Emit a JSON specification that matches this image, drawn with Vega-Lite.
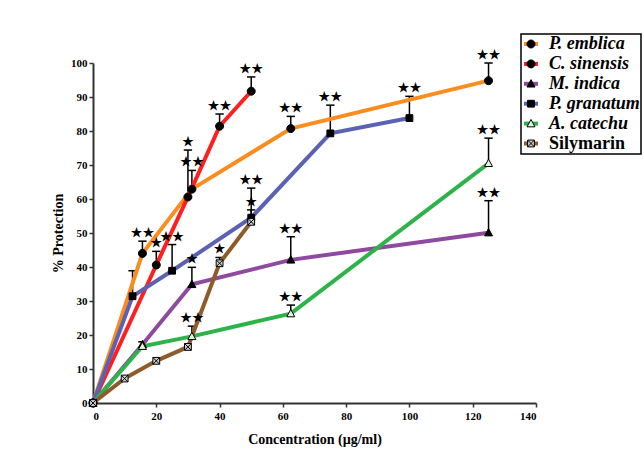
{
  "$schema": "https://vega.github.io/schema/vega-lite/v6.json",
  "autosize": "none",
  "width": 443,
  "height": 340,
  "padding": {"left": 93, "top": 63, "right": 108, "bottom": 56},
  "background": "white",
  "config": {
    "view": {"stroke": null},
    "axis": {
      "grid": false,
      "domainColor": "#333333",
      "domainWidth": 2,
      "tickColor": "#333333",
      "tickWidth": 1.5,
      "tickSize": 4,
      "labelFont": "Liberation Serif",
      "labelFontWeight": "bold",
      "labelFontSize": 11,
      "labelColor": "black",
      "titleFont": "Liberation Serif",
      "titleFontWeight": "bold",
      "titleFontSize": 14,
      "titleColor": "black"
    },
    "legend": {"strokeWidth": 1.5}
  },
  "data": {
    "values": [
      {"series": "P. emblica", "conc": 0, "prot": 0},
      {"series": "P. emblica", "conc": 15.625, "prot": 44, "err": 47.6, "stars": "★★"},
      {"series": "P. emblica", "conc": 31.25, "prot": 62.9, "err": 68.4, "stars": "★★"},
      {"series": "P. emblica", "conc": 62.5, "prot": 80.7, "err": 84.3, "stars": "★★"},
      {"series": "P. emblica", "conc": 125, "prot": 94.8, "err": 100, "stars": "★★"},
      {"series": "C. sinensis", "conc": 0, "prot": 0},
      {"series": "C. sinensis", "conc": 20, "prot": 40.6, "err": 44.6, "stars": "★"},
      {"series": "C. sinensis", "conc": 30, "prot": 60.6, "err": 74.4, "stars": "★"},
      {"series": "C. sinensis", "conc": 40, "prot": 81.4, "err": 85, "stars": "★★"},
      {"series": "C. sinensis", "conc": 50, "prot": 91.7, "err": 95.9, "stars": "★★"},
      {"series": "M. indica", "conc": 0, "prot": 0},
      {"series": "M. indica", "conc": 15.625, "prot": 17.2},
      {"series": "M. indica", "conc": 31.25, "prot": 34.9, "err": 39.9, "stars": "★"},
      {"series": "M. indica", "conc": 62.5, "prot": 42.1, "err": 48.9, "stars": "★★"},
      {"series": "M. indica", "conc": 125, "prot": 50.1, "err": 59.5, "stars": "★★"},
      {"series": "P. granatum", "conc": 0, "prot": 0},
      {"series": "P. granatum", "conc": 12.5, "prot": 31.4, "err": 38.9},
      {"series": "P. granatum", "conc": 25, "prot": 38.9, "err": 46.6, "stars": "★★"},
      {"series": "P. granatum", "conc": 50, "prot": 54.5, "err": 63.2, "stars": "★★"},
      {"series": "P. granatum", "conc": 75, "prot": 79.3, "err": 87.6, "stars": "★★"},
      {"series": "P. granatum", "conc": 100, "prot": 83.8, "err": 90.2, "stars": "★★"},
      {"series": "A. catechu", "conc": 0, "prot": 0},
      {"series": "A. catechu", "conc": 15.625, "prot": 16.7, "err": 18},
      {"series": "A. catechu", "conc": 31.25, "prot": 19.6, "err": 22.6, "stars": "★★"},
      {"series": "A. catechu", "conc": 62.5, "prot": 26.3, "err": 28.8, "stars": "★★"},
      {"series": "A. catechu", "conc": 125, "prot": 70.5, "err": 77.9, "stars": "★★"},
      {"series": "Silymarin", "conc": 0, "prot": 0},
      {"series": "Silymarin", "conc": 10, "prot": 7.2},
      {"series": "Silymarin", "conc": 20, "prot": 12.4},
      {"series": "Silymarin", "conc": 30, "prot": 16.5},
      {"series": "Silymarin", "conc": 40, "prot": 41.1, "err": 42.8, "stars": "★"},
      {"series": "Silymarin", "conc": 50, "prot": 53.3, "err": 56.8, "stars": "★"}
    ]
  },
  "encoding": {
    "x": {
      "field": "conc",
      "type": "quantitative",
      "scale": {"domain": [0, 140], "nice": false},
      "axis": {"values": [0, 20, 40, 60, 80, 100, 120, 140], "title": "Concentration (µg/ml)", "titlePadding": 11, "labelPadding": 3}
    },
    "y": {
      "field": "prot",
      "type": "quantitative",
      "scale": {"domain": [0, 100], "nice": false},
      "axis": {"values": [0, 10, 20, 30, 40, 50, 60, 70, 80, 90, 100], "title": "% Protection", "titlePadding": 5, "labelPadding": 2}
    }
  },
  "layer": [
    {
      "transform": [{"filter": "isValid(datum.err)"}],
      "mark": {"type": "rule", "color": "black", "strokeWidth": 1.5},
      "encoding": {"y2": {"field": "err"}}
    },
    {
      "transform": [{"filter": "isValid(datum.err)"}],
      "mark": {"type": "point", "shape": "stroke", "size": 70, "color": "black", "strokeWidth": 1.5, "opacity": 1},
      "encoding": {"y": {"field": "err", "type": "quantitative"}}
    },
    {
      "mark": {"type": "line", "strokeWidth": 4},
      "encoding": {
        "color": {
          "field": "series",
          "type": "nominal",
          "scale": {
            "domain": ["P. emblica", "C. sinensis", "M. indica", "P. granatum", "A. catechu", "Silymarin"],
            "range": ["#FB8C1E", "#FF1F1F", "#8D4A9E", "#5B62B3", "#2EB34B", "#8E5C2A"]
          },
          "legend": {
            "orient": "none",
            "legendX": 428,
            "legendY": -29,
            "title": null,
            "symbolType": "stroke",
            "symbolSize": 196,
            "symbolStrokeWidth": 4,
            "padding": 1,
            "rowPadding": 1.9,
            "labelOffset": 9,
            "labelFont": "Liberation Serif",
            "labelFontSize": 18,
            "labelFontWeight": "bold",
            "labelFontStyle": {"expr": "datum.label == 'Silymarin' ? 'normal' : 'italic'"},
            "labelColor": "black",
            "labelLimit": 300,
            "strokeColor": "black"
          }
        }
      }
    },
    {
      "mark": {"type": "point", "filled": true, "size": 289, "stroke": "black", "strokeWidth": 1, "opacity": 1},
      "encoding": {
        "shape": {
          "field": "series",
          "type": "nominal",
          "sort": ["P. emblica", "C. sinensis", "M. indica", "P. granatum", "A. catechu", "Silymarin"],
          "scale": {
            "range": [
              "M0.47,0A0.47,0.47,0,1,1,-0.47,0A0.47,0.47,0,1,1,0.47,0Z",
              "M0.47,0A0.47,0.47,0,1,1,-0.47,0A0.47,0.47,0,1,1,0.47,0Z",
              "M0,-0.49L0.47,0.38L-0.47,0.38Z",
              "M-0.4,-0.4H0.4V0.4H-0.4Z",
              "M0,-0.49L0.47,0.38L-0.47,0.38Z",
              "M-0.4,-0.4H0.4V0.4H-0.4Z M-0.4,-0.4L0.4,0.4 M0.4,-0.4L-0.4,0.4"
            ]
          },
          "legend": {
            "orient": "none",
            "legendX": 428,
            "legendY": -29,
            "title": null,
            "symbolSize": 289,
            "symbolStrokeWidth": 1,
            "symbolStrokeColor": "black",
            "symbolFillColor": {"expr": "datum.value == 'A. catechu' ? '#e4f4de' : datum.value == 'Silymarin' ? '#cfcfcf' : 'black'"},
            "padding": 1,
            "rowPadding": 1.9,
            "labelOffset": 9,
            "labelFont": "Liberation Serif",
            "labelFontSize": 18,
            "labelFontWeight": "bold",
            "labelOpacity": 0,
            "labelLimit": 300
          }
        },
        "fill": {
          "field": "series",
          "type": "nominal",
          "scale": {
            "domain": ["P. emblica", "C. sinensis", "M. indica", "P. granatum", "A. catechu", "Silymarin"],
            "range": ["black", "black", "black", "black", "#e4f4de", "#cfcfcf"]
          },
          "legend": null
        }
      }
    },
    {
      "transform": [{"filter": "isValid(datum.stars)"}],
      "mark": {"type": "text", "font": "Noto Sans CJK JP", "fontSize": 12, "color": "black", "baseline": "middle", "dy": -8},
      "encoding": {"y": {"field": "err", "type": "quantitative"}, "text": {"field": "stars"}}
    }
  ]
}
